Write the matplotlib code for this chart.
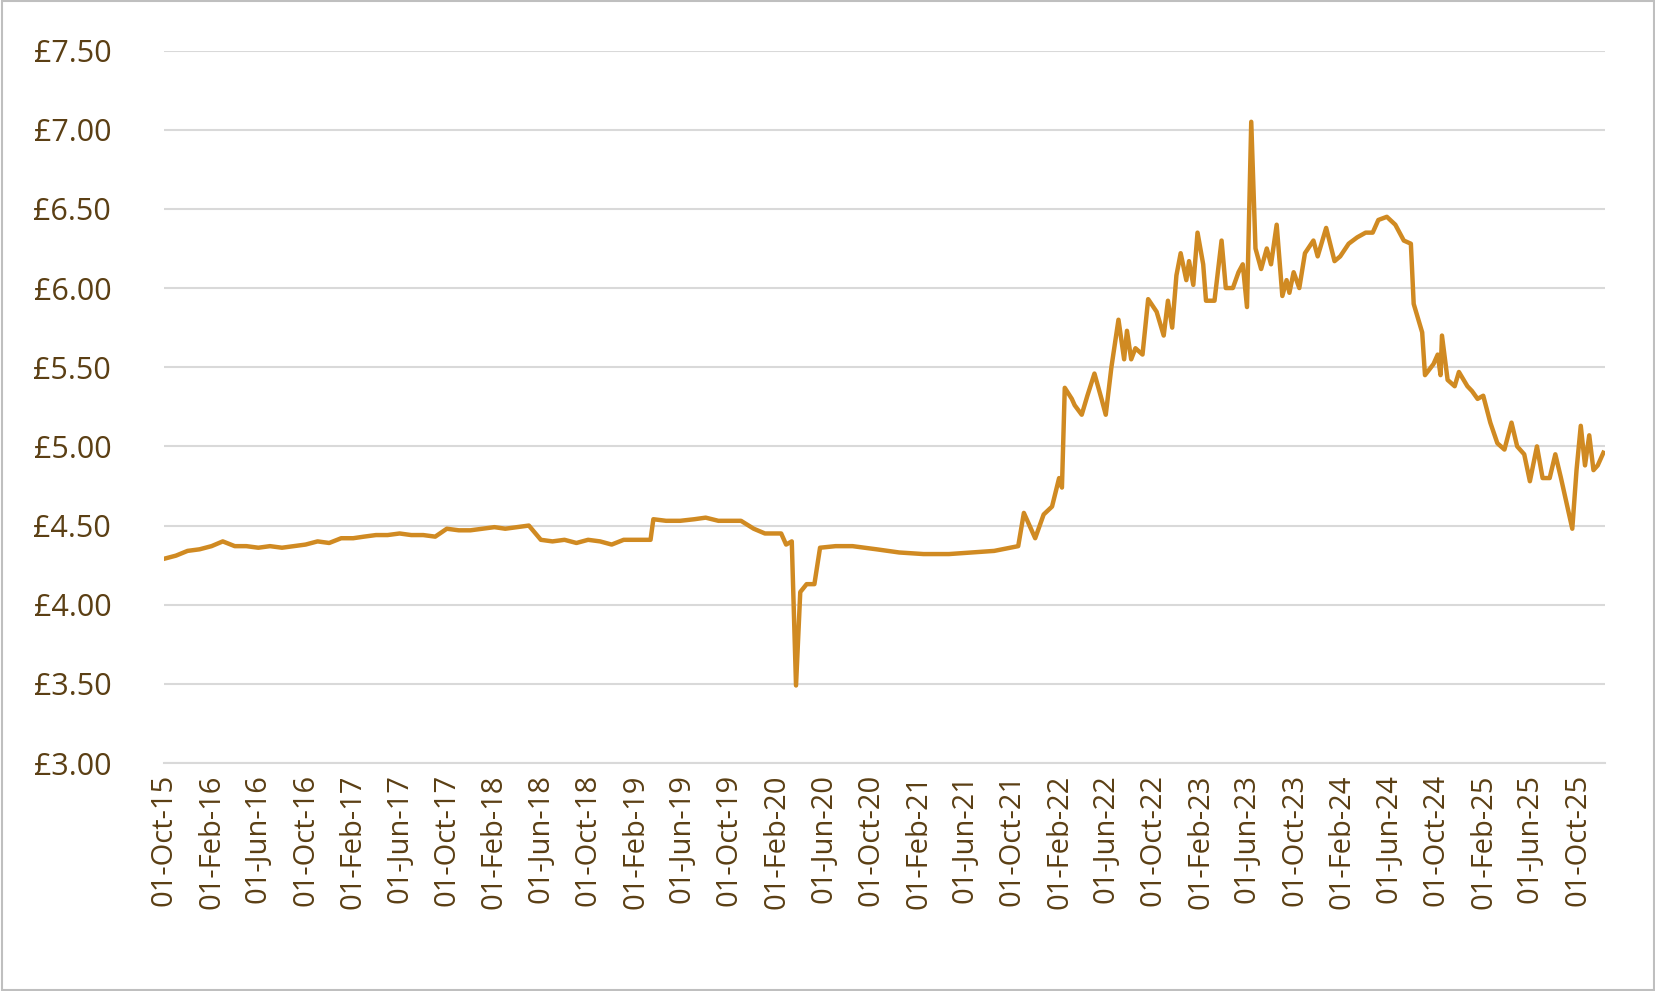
import matplotlib
matplotlib.use("Agg")
import matplotlib.pyplot as plt
import numpy as np
from datetime import datetime, timedelta

# Monthly values Oct-2015 .. Feb-2019
early_values = [4.29, 4.31, 4.34, 4.35, 4.37, 4.40, 4.37, 4.37, 4.36, 4.37, 4.36, 4.37,
                4.38, 4.40, 4.39, 4.42, 4.42, 4.43, 4.44, 4.44, 4.45, 4.44, 4.44, 4.43,
                4.48, 4.47, 4.47, 4.48, 4.49, 4.48, 4.49, 4.50, 4.41, 4.40, 4.41, 4.39,
                4.41, 4.40, 4.38, 4.41, 4.41]
# decimal-year points from Mar-2019 onwards
late_years = [2019.19, 2019.21, 2019.30, 2019.40, 2019.50, 2019.58, 2019.67, 2019.75, 2019.83,
              2019.92, 2020.00, 2020.04,
              2020.115, 2020.15, 2020.19, 2020.22, 2020.25, 2020.295, 2020.35, 2020.39,
              2020.50, 2020.62, 2020.79, 2020.95, 2021.12, 2021.30, 2021.46, 2021.62,
              2021.79, 2021.83, 2021.91, 2021.97, 2022.03, 2022.08,
              2022.10, 2022.12, 2022.17, 2022.19, 2022.24, 2022.28, 2022.33, 2022.38, 2022.41,
              2022.45, 2022.50, 2022.54, 2022.56, 2022.59, 2022.62, 2022.67, 2022.71, 2022.77,
              2022.82, 2022.85, 2022.88, 2022.91, 2022.94, 2022.98, 2023.00, 2023.03, 2023.06,
              2023.10, 2023.12, 2023.18, 2023.23, 2023.26, 2023.31, 2023.35, 2023.38, 2023.41,
              2023.44, 2023.47, 2023.51, 2023.55, 2023.58, 2023.62, 2023.66, 2023.69, 2023.71,
              2023.74, 2023.78, 2023.82, 2023.88, 2023.91, 2023.97, 2024.03, 2024.07, 2024.13,
              2024.19, 2024.25, 2024.30, 2024.34, 2024.40, 2024.46, 2024.52, 2024.57, 2024.59,
              2024.65, 2024.67, 2024.73, 2024.76, 2024.78, 2024.79, 2024.83, 2024.88, 2024.91,
              2024.97, 2025.00, 2025.04, 2025.08, 2025.13, 2025.18, 2025.23, 2025.28, 2025.32,
              2025.37, 2025.41, 2025.46, 2025.50, 2025.55, 2025.59, 2025.63, 2025.71, 2025.74,
              2025.77, 2025.80, 2025.83, 2025.86, 2025.89, 2025.93]
late_values = [4.41, 4.54, 4.53, 4.53, 4.54, 4.55, 4.53, 4.53, 4.53, 4.48, 4.45, 4.45,
               4.45, 4.38, 4.40, 3.49, 4.08, 4.13, 4.13, 4.36,
               4.37, 4.37, 4.35, 4.33, 4.32, 4.32, 4.33, 4.34,
               4.37, 4.58, 4.42, 4.57, 4.62, 4.80,
               4.74, 5.37, 5.30, 5.26, 5.20, 5.32, 5.46, 5.30, 5.20,
               5.50, 5.80, 5.55, 5.73, 5.55, 5.62, 5.58, 5.93, 5.85,
               5.70, 5.92, 5.75, 6.08, 6.22, 6.05, 6.17, 6.02, 6.35,
               6.15, 5.92, 5.92, 6.30, 6.00, 6.00, 6.10, 6.15, 5.88,
               7.05, 6.25, 6.12, 6.25, 6.15, 6.40, 5.95, 6.05, 5.97,
               6.10, 6.00, 6.22, 6.30, 6.20, 6.38, 6.17, 6.20, 6.28,
               6.32, 6.35, 6.35, 6.43, 6.45, 6.40, 6.30, 6.28, 5.90,
               5.72, 5.45, 5.52, 5.58, 5.45, 5.70, 5.42, 5.38, 5.47,
               5.38, 5.35, 5.30, 5.32, 5.15, 5.02, 4.98, 5.15, 5.00,
               4.95, 4.78, 5.00, 4.80, 4.80, 4.95, 4.80, 4.48, 4.85,
               5.13, 4.88, 5.07, 4.85, 4.88, 4.96]

def dec_to_date(y):
    yr = int(y)
    return datetime(yr, 1, 1) + timedelta(days=(y - yr) * 365.25)

dates = [datetime(2015 + (9 + m) // 12, (9 + m) % 12 + 1, 1) for m in range(len(early_values))]
dates += [dec_to_date(y) for y in late_years]
values = early_values + late_values

tick_dates = [datetime(2015 + (9 + m) // 12, (9 + m) % 12 + 1, 1) for m in range(0, 121, 4)]

text_color = "#5b3f14"
line_color = "#d08a22"
plt.rcParams['font.family'] = ['Open Sans', 'DejaVu Sans']

fig = plt.figure(figsize=(16.56, 9.91), dpi=100)
ax = fig.add_axes([0.099, 0.230, 0.870, 0.719])
ax.plot(dates, values, color=line_color, lw=3.2)
ax.set_ylim(3.0, 7.5)
ax.set_yticks(np.arange(3.0, 7.51, 0.5))
ax.set_yticklabels([f"£{v:.2f}" for v in np.arange(3.0, 7.51, 0.5)])
ax.set_xlim(datetime(2015, 10, 1), datetime(2025, 12, 10))
ax.set_xticks(tick_dates)
ax.set_xticklabels([d.strftime("%d-%b-%y") for d in tick_dates], rotation=90)
ax.grid(axis='y', color='#d9d9d9', lw=1.5)
ax.set_axisbelow(True)
for s in ['top', 'right', 'left']:
    ax.spines[s].set_visible(False)
ax.spines['bottom'].set_color('#d9d9d9')
ax.spines['bottom'].set_linewidth(1.5)
ax.tick_params(axis='y', length=0, labelsize=22, labelcolor=text_color, pad=38)
ax.tick_params(axis='x', length=0, labelsize=21, labelcolor=text_color, pad=8)
fig.patches.append(plt.Rectangle((0.001, 0.001), 0.998, 0.998, transform=fig.transFigure,
                                 fill=False, edgecolor='#bfbfbf', lw=1.5))
fig.savefig("out.png", dpi=100)
